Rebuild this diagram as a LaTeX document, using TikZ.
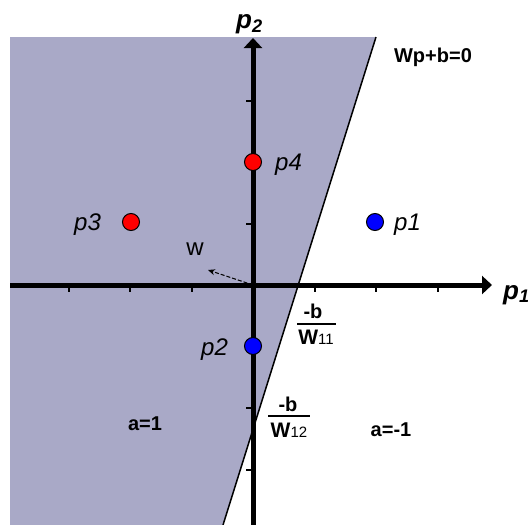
\documentclass[tikz,border=0pt]{standalone}
\usepackage{fontspec}
\setmainfont{Liberation Sans}
\usetikzlibrary{arrows.meta}

\definecolor{halfplane}{RGB}{169,169,199}
\definecolor{ptred}{RGB}{255,0,0}
\definecolor{ptblue}{RGB}{0,0,255}

\tikzset{
  axis/.style={line width=5pt, -{Triangle[length=10pt,width=18pt]}},
  axtick/.style={line width=2pt},
  dotpt/.style={circle, draw=black, line width=1pt, minimum size=17pt, inner sep=0pt},
  plabel/.style={anchor=base west, inner sep=0pt, font=\fontsize{24}{24}\selectfont\itshape},
  boldlabel/.style={inner sep=0pt, font=\fontsize{#1}{#1}\selectfont\bfseries},
}

\begin{document}
\begin{tikzpicture}[x=1pt, y=-1pt]
  \useasboundingbox (0,0) rectangle (528,525);

  % --- semipiano a=1 ---
  \fill[halfplane] (10,37) -- (376,37) -- (223,525) -- (10,525) -- cycle;
  \coordinate (btop) at (376,37);
  \coordinate (bbot) at (223,525);
  \draw[line width=1.5pt] (btop) -- (bbot);

  % --- assi ---
  \coordinate (O) at (253,285);
  \coordinate (xleft) at (10,285);
  \coordinate (xright) at (492,285);
  \coordinate (ybot) at (253,525);
  \coordinate (ytop) at (253,38);
  \draw[axis] (xleft) -- (xright);
  \draw[axis] (ybot) -- (ytop);
  \node[anchor=base west, inner sep=0pt, font=\fontsize{26}{26}\selectfont\bfseries\itshape] (lp1) at (503,299) {p\textsubscript{1}};
  \node[anchor=base west, inner sep=0pt, font=\fontsize{26}{26}\selectfont\bfseries\itshape] (lp2) at (236,28) {p\textsubscript{2}};

  % --- tacche ---
  \foreach \k in {-3,-2,-1,1,2,3} {
    \draw[axtick] (253+61.5*\k,285) -- ++(0,7);
    \draw[axtick] (253,285+61.5*\k) -- ++(-7,0);
  }

  % --- vettore w ---
  \coordinate (wtip) at (208,270);
  \draw[line width=1pt, dash pattern=on 4pt off 2pt, -{Stealth[length=7pt,width=6pt]}] (O) -- (wtip);
  \node[inner sep=0pt, font=\fontsize{24}{24}\selectfont] (lw) at (195,249) {w};

  % --- punti ---
  \node[dotpt, fill=ptblue] (p1) at (375,222) {};
  \node[dotpt, fill=ptblue] (p2) at (253,346) {};
  \node[dotpt, fill=ptred] (p3) at (131,222) {};
  \node[dotpt, fill=ptred] (p4) at (253,162) {};
  \node[plabel] (lp1pt) at (394,230) {p1};
  \node[plabel] (lp2pt) at (201,355) {p2};
  \node[plabel] (lp3pt) at (74,230) {p3};
  \node[plabel] (lp4pt) at (275,170) {p4};

  % --- retta di separazione ---
  \node[boldlabel=20] (eq) at (433,57) {Wp+b=0};

  % --- intercetta su p1 ---
  \node[boldlabel=20] (num1) at (313,311) {-b};
  \node[boldlabel=21] (den1) at (316,337) {W{\fontsize{15}{15}\selectfont\mdseries 11}};
  \draw[line width=1.5pt] (297,324) -- (336,324);

  % --- intercetta su p2 ---
  \node[boldlabel=20] (num2) at (288,404) {-b};
  \node[boldlabel=21] (den2) at (289,430) {W{\fontsize{15}{15}\selectfont\mdseries 12}};
  \draw[line width=1.5pt] (268,416) -- (310,416);

  % --- etichette delle regioni ---
  \node[boldlabel=20] (a1) at (145,424) {a=1};
  \node[boldlabel=20] (am1) at (391,430) {a=-1};

\end{tikzpicture}
\end{document}
